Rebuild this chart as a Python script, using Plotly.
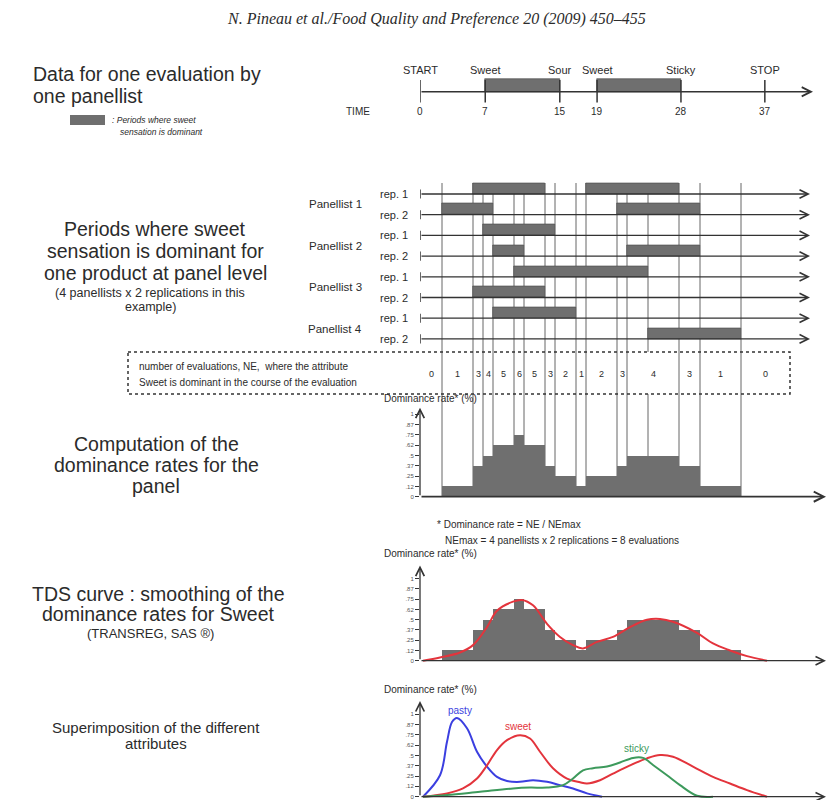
import plotly.graph_objects as go

# reference canvas is 837x800; the page adds an 8px body margin, so the figure is 829x792
W, H = 837, 800
OFF = 8
FW, FH = W - OFF, H - OFF

# ---------------- data ----------------
event_labels = ["START", "Sweet", "Sour", "Sweet", "Sticky", "STOP"]
event_times = [0, 7, 15, 19, 28, 37]
sweet_on = [7, 19]
sweet_off = [15, 28]

panellists = ["Panellist 1", "Panellist 2", "Panellist 3", "Panellist 4"]
rep_labels = ["rep. 1", "rep. 2", "rep. 1", "rep. 2", "rep. 1", "rep. 2", "rep. 1", "rep. 2"]
bar_row = [0, 0, 1, 1, 2, 3, 3, 4, 5, 6, 7]
bar_start = [5.3, 16.6, 2.2, 19.7, 6.3, 7.3, 20.7, 9.4, 5.3, 7.3, 22.8]
bar_end = [12.5, 25.9, 7.3, 28.0, 13.5, 10.4, 28.0, 22.8, 12.5, 15.6, 32.1]

ne_edges = [0, 2.2, 5.3, 6.3, 7.3, 9.4, 10.4, 12.5, 13.5, 15.6, 16.6, 19.7, 20.7, 25.9, 28.0, 32.1, 37.0]
ne_values = [0, 1, 3, 4, 5, 6, 5, 3, 2, 1, 2, 3, 4, 3, 1, 0]
ne_max = 8

rate_ticks = [0, 0.125, 0.25, 0.375, 0.5, 0.625, 0.75, 0.875, 1]
rate_tick_text = ["0", ".12", ".25", ".37", ".5", ".62", ".75", ".87", "1"]

tds_t = [0.3, 2.0, 4.0, 5.3, 6.7, 7.7, 9.3, 10.2, 11.3, 12.7, 14.0, 15.3, 16.3, 17.7,
         19.3, 21.0, 22.7, 24.0, 25.3, 27.7, 29.3, 31.0, 32.7, 34.7]
tds_rate = [0, 0.04, 0.10, 0.19, 0.41, 0.61, 0.72, 0.74, 0.675, 0.45, 0.29, 0.19, 0.15, 0.23,
            0.29, 0.41, 0.50, 0.51, 0.475, 0.34, 0.21, 0.125, 0.056, 0]

pasty_t = [0.3, 2.0, 2.7, 3.2, 3.7, 4.7, 5.7, 6.7, 7.7, 8.7, 10.0, 11.3, 12.7, 14.0, 15.3, 16.7, 18.2]
pasty_rate = [0, 0.26, 0.665, 0.905, 0.955, 0.83, 0.545, 0.365, 0.24, 0.19, 0.18, 0.20, 0.18,
              0.14, 0.10, 0.04, 0]
sweet_t = [0.3, 2.7, 4.3, 5.7, 6.7, 7.7, 8.7, 10.0, 11.0, 12.0, 13.3, 14.7, 16.0, 16.7, 18.0,
           19.3, 21.0, 22.7, 24.0, 25.3, 27.3, 29.3, 31.0, 32.7, 34.7]
sweet_rate = [0, 0.04, 0.10, 0.22, 0.38, 0.565, 0.685, 0.745, 0.705, 0.545, 0.345, 0.22, 0.175,
              0.16, 0.20, 0.28, 0.38, 0.465, 0.505, 0.485, 0.365, 0.24, 0.16, 0.08, 0]
sticky_t = [0.3, 2.7, 6.0, 9.3, 11.0, 12.7, 14.3, 15.3, 16.3, 17.3, 18.7, 20.0, 21.3, 22.3,
            23.3, 24.7, 26.0, 27.7, 29.3]
sticky_rate = [0, 0.02, 0.06, 0.10, 0.11, 0.11, 0.14, 0.22, 0.32, 0.345, 0.365, 0.415, 0.47,
               0.47, 0.385, 0.26, 0.14, 0.012, 0]

# ---------------- helpers ----------------
FONT = "Liberation Sans"
DARK = "#2b2b2b"
GRAY = "#6f6f6f"
ann = []
shapes = []


def PX(x):
    return (x - OFF) / FW


def PY(y):
    return 1 - (y - OFF) / FH


def txt(x, y, s, size, anchor="left", color=DARK, family=FONT):
    ann.append(dict(x=PX(x), y=PY(y), xref="paper", yref="paper", text=s, showarrow=False,
                    xanchor=anchor, yanchor="middle",
                    font=dict(size=size, color=color, family=family)))


def arrow(xa, ya, x0, y0, x1, y1, width=1.3, size=1.3, color="#333"):
    ann.append(dict(x=x1, y=y1, ax=x0, ay=y0, xref=xa, yref=ya, axref=xa, ayref=ya,
                    showarrow=True, arrowhead=5, arrowsize=size, arrowwidth=width,
                    arrowcolor=color, text=""))


T0 = 420.0
K = 10.0          # px per second, lower sections
KT = 9.32         # px per second, top timeline
xdom = [PX(T0), 1]
xr_low = [0, (W - T0) / K]

fig = go.Figure()

# ---------------- top timeline ----------------
fig.add_trace(go.Bar(y=[0] * len(sweet_on), base=sweet_on,
                     x=[b - a for a, b in zip(sweet_on, sweet_off)],
                     orientation="h", width=1, offset=0,
                     marker=dict(color=GRAY, line=dict(width=0.6, color="#444")),
                     xaxis="x", yaxis="y", showlegend=False, hoverinfo="skip"))
tx, ty = [], []
for t in event_times:
    tx += [t, t, None]
    ty += [-0.85, 0.95, None]
fig.add_trace(go.Scatter(x=tx, y=ty, mode="lines", line=dict(color="#333", width=1.5),
                         xaxis="x", yaxis="y", showlegend=False, hoverinfo="skip"))
arrow("x", "y", 0, 0, (813 - T0) / KT, 0, width=1.3, size=1.4)
for lab, t in zip(event_labels, event_times):
    ann.append(dict(x=t, y=1.75, xref="x", yref="y", text=lab, showarrow=False,
                    font=dict(size=11, color=DARK, family=FONT)))
    ann.append(dict(x=t, y=-1.55, xref="x", yref="y", text=str(t), showarrow=False,
                    font=dict(size=10, color=DARK, family=FONT)))
txt(358, 111, "TIME", 10, "center")

# ---------------- panel bars ----------------
fig.add_trace(go.Bar(y=bar_row, base=bar_start, x=[e - s for s, e in zip(bar_start, bar_end)],
                     orientation="h", width=0.53, offset=-0.53,
                     marker=dict(color=GRAY, line=dict(width=0.6, color="#444")),
                     xaxis="x2", yaxis="y2", showlegend=False, hoverinfo="skip"))
sx, sy = [], []
for r in range(len(rep_labels)):
    arrow("x2", "y2", 0, r, 39, r, width=1.3, size=1.3)
    sx += [0, 0, None]
    sy += [r - 0.22, r + 0.22, None]
    ann.append(dict(x=PX(410), y=r, xref="paper", yref="y2", text=rep_labels[r], showarrow=False,
                    xanchor="right", font=dict(size=11, color=DARK, family=FONT)))
fig.add_trace(go.Scatter(x=sx, y=sy, mode="lines", line=dict(color="#333", width=1.5),
                         xaxis="x2", yaxis="y2", showlegend=False, hoverinfo="skip"))
for i, p in enumerate(panellists):
    ann.append(dict(x=PX(364), y=2 * i + 0.5, xref="paper", yref="y2", text=p, showarrow=False,
                    xanchor="right", font=dict(size=11.5, color=DARK, family=FONT)))

# vertical boundary lines
boundaries = sorted(set(bar_start + bar_end))
for b in boundaries:
    segs = [(183, 497)] if b in ne_edges else [(183, 352), (394, 497)]
    for a, c in segs:
        shapes.append(dict(type="line", xref="x2", yref="paper", x0=b, x1=b, y0=PY(a), y1=PY(c),
                           line=dict(color="#666", width=1), layer="below"))

# NE box
shapes.append(dict(type="rect", xref="paper", yref="paper", x0=PX(128), x1=PX(790),
                   y0=PY(352), y1=PY(394), line=dict(color="#333", width=1.5, dash="dot")))
txt(137, 366, "number of evaluations, NE,  where the attribute", 10)
txt(137, 382, "Sweet is dominant in the course of the evaluation", 10)
centers = [(a + b) / 2 for a, b in zip(ne_edges[:-1], ne_edges[1:])]
widths = [b - a for a, b in zip(ne_edges[:-1], ne_edges[1:])]
for c, v in zip(centers, ne_values):
    ann.append(dict(x=c, y=PY(374), xref="x2", yref="paper", text=str(v), showarrow=False,
                    font=dict(size=9, color=DARK, family=FONT)))

rates = [v / ne_max for v in ne_values]
bc = [c for c, v in zip(centers, ne_values) if v > 0]
bw = [w for w, v in zip(widths, ne_values) if v > 0]
br = [r for r, v in zip(rates, ne_values) if v > 0]

# ---------------- dominance rate chart ----------------
fig.add_trace(go.Bar(x=bc, y=br, width=bw, marker=dict(color=GRAY, line=dict(width=0)),
                     xaxis="x3", yaxis="y3", showlegend=False, hoverinfo="skip"))
arrow("x3", "y3", 0, 0, 40.6, 0, width=1.8, size=1.1)
arrow("x3", "y3", 0, 0, 0, 1.08, width=1.3, size=1.3)

# ---------------- TDS chart ----------------
fig.add_trace(go.Bar(x=bc, y=br, width=bw, marker=dict(color=GRAY, line=dict(width=0)),
                     xaxis="x4", yaxis="y4", showlegend=False, hoverinfo="skip"))
fig.add_trace(go.Scatter(x=tds_t, y=tds_rate, mode="lines",
                         line=dict(color="#e3343c", width=2, shape="spline"),
                         xaxis="x4", yaxis="y4", showlegend=False, hoverinfo="skip"))
arrow("x4", "y4", 0, 0, 40.6, 0, width=1.3, size=1.3)
arrow("x4", "y4", 0, 0, 0, 1.16, width=1.3, size=1.3)

# ---------------- superimposition chart ----------------
for tt, rr, col in [(pasty_t, pasty_rate, "#3b3fe0"), (sweet_t, sweet_rate, "#e3343c"),
                    (sticky_t, sticky_rate, "#3d9a5c")]:
    fig.add_trace(go.Scatter(x=tt, y=rr, mode="lines", line=dict(color=col, width=2, shape="spline"),
                             xaxis="x5", yaxis="y5", showlegend=False, hoverinfo="skip"))
arrow("x5", "y5", 0, 0, 40.6, 0, width=1.3, size=1.3)
arrow("x5", "y5", 0, 0, 0, 1.16, width=1.3, size=1.3)
for lab, t, r, col in [("pasty", 4.0, 1.05, "#3b3fe0"), ("sweet", 9.8, 0.85, "#e3343c"),
                       ("sticky", 21.6, 0.59, "#3d9a5c")]:
    ann.append(dict(x=t, y=r, xref="x5", yref="y5", text=lab, showarrow=False,
                    font=dict(size=10, color=col, family=FONT)))

# chart labels
for y in (398, 553, 689):
    txt(382, y, "Dominance rate* (%)", 10)
for y in (498, 661, 797):
    txt(827, y, "time", 10)
txt(435, 524, "* Dominance rate = NE / NEmax", 10)
txt(443, 540, "NEmax = 4 panellists x 2 replications = 8 evaluations", 10)

# ---------------- left-hand texts ----------------
txt(436, 19, "<i>N. Pineau et al./Food Quality and Preference 20 (2009) 450\u2013455</i>", 16,
    "center", family="Liberation Serif")
txt(31, 74, "Data for one evaluation by", 19.5)
txt(31, 96, "one panellist", 19.5)
shapes.append(dict(type="rect", xref="paper", yref="paper", x0=PX(70), x1=PX(105), y0=PY(115),
                   y1=PY(125), fillcolor=GRAY, line=dict(width=0)))
txt(110, 120, "<i>: Periods where sweet</i>", 8.5)
txt(118, 132, "<i>sensation is dominant</i>", 8.5)

for i, s in enumerate(["Periods where sweet", "sensation is dominant for", "one product at panel level"]):
    txt(155, 229 + 22 * i, s, 19.5, "center")
txt(150, 293, "(4 panellists x 2 replications in this", 12.5, "center")
txt(150, 307, "example)", 12.5, "center")
for i, s in enumerate(["Computation of the", "dominance rates for the", "panel"]):
    txt(156, 444 + 21 * i, s, 19.5, "center")
txt(158, 594, "TDS curve : smoothing of the", 19.5, "center")
txt(158, 614, "dominance rates for Sweet", 19.5, "center")
txt(150, 633, "(TRANSREG, SAS \u00ae)", 13, "center")
txt(156, 727, "Superimposition of the different", 15, "center")
txt(156, 743, "attributes", 15, "center")

# ---------------- axes ----------------
hidden = dict(visible=False, showgrid=False, zeroline=False, fixedrange=True)


def ydom(top, bottom):
    return [max(PY(bottom), 0), min(PY(top), 1)]


ychart = dict(showgrid=False, zeroline=False, showline=False, ticks="outside", ticklen=4,
              tickwidth=1, tickcolor="#333", tickvals=rate_ticks, ticktext=rate_tick_text,
              tickfont=dict(size=6, color="#555", family=FONT), automargin=False)

row0, rowstep = 194.0, 20.7
fig.update_layout(
    width=FW, height=FH, margin=dict(l=0, r=0, t=0, b=0),
    paper_bgcolor="white", plot_bgcolor="rgba(0,0,0,0)", template="none",
    font=dict(family=FONT, color=DARK), showlegend=False, bargap=0,
    xaxis=dict(hidden, domain=xdom, range=[0, (W - T0) / KT], anchor="y"),
    yaxis=dict(hidden, domain=ydom(60, 120), range=[-2.26, 2.54], anchor="x"),
    xaxis2=dict(hidden, domain=xdom, range=xr_low, anchor="y2"),
    yaxis2=dict(hidden, domain=ydom(row0 - rowstep, row0 + 8 * rowstep), range=[8, -1], anchor="x2"),
    xaxis3=dict(hidden, domain=xdom, range=xr_low, anchor="y3"),
    yaxis3=dict(ychart, domain=ydom(400, 500), range=[-3.3 / 82.4, 96.7 / 82.4], anchor="x3"),
    xaxis4=dict(hidden, domain=xdom, range=xr_low, anchor="y4"),
    yaxis4=dict(ychart, domain=ydom(560, 665), range=[-4.3 / 82.0, 100.7 / 82.0], anchor="x4"),
    xaxis5=dict(hidden, domain=xdom, range=xr_low, anchor="y5"),
    yaxis5=dict(ychart, domain=ydom(695, 800), range=[-3.3 / 82.5, 101.7 / 82.5], anchor="x5"),
    annotations=ann, shapes=shapes,
)

fig.write_html("out.html")
